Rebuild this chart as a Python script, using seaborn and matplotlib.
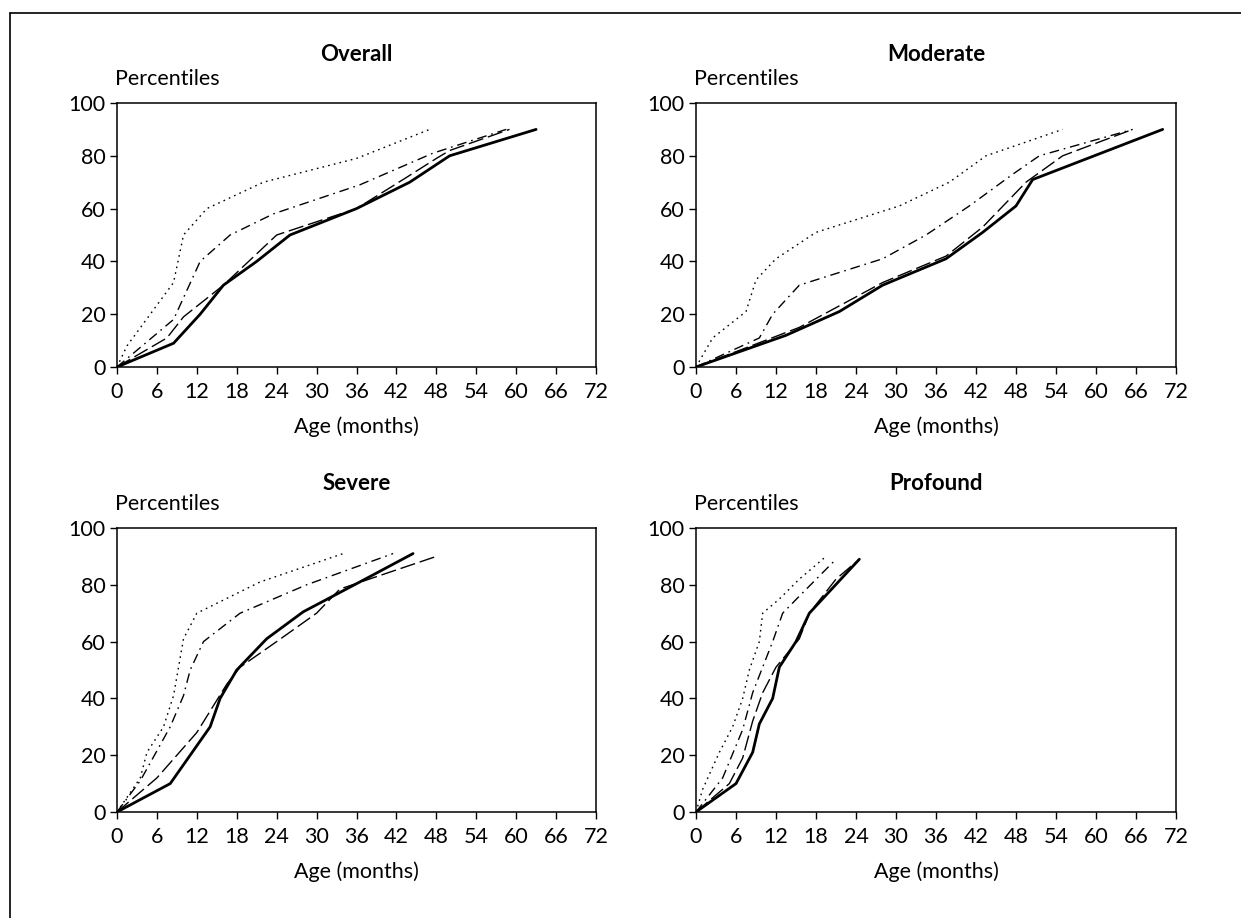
import matplotlib
matplotlib.use("Agg")
import matplotlib.pyplot as plt
import matplotlib.lines as mlines
import seaborn as sns

# age (months) and percentile values
# Overall
overall_solid_x = [0, 8.5, 12.5, 16, 21, 26, 36, 44, 50, 63]
overall_solid_y = [0, 9, 20, 31, 40, 50, 60, 70, 80, 90]
overall_dash_x = [0, 7.5, 10, 16, 24, 30, 36, 43, 48, 50, 59]
overall_dash_y = [0, 11, 19, 31, 50, 55, 60, 71, 79, 82, 90]
overall_dashdot_x = [0, 8.5, 12.5, 17, 23.5, 36.5, 47.5, 58.5]
overall_dashdot_y = [0, 18, 40, 50, 58, 69, 81, 90]
overall_dot_x = [0, 1.5, 8.5, 10, 13.5, 22, 36, 47]
overall_dot_y = [0, 8, 32, 50, 60, 70, 79, 90]

# Moderate
moderate_solid_x = [0, 13.5, 21.5, 28, 37.5, 43, 48, 50.5, 70]
moderate_solid_y = [0, 12, 21, 31, 41, 51, 61, 71, 90]
moderate_dash_x = [0, 15.5, 28, 37.5, 43, 49.5, 55, 65.5]
moderate_dash_y = [0, 15, 32, 42, 53, 70, 80, 90]
moderate_dashdot_x = [0, 9.5, 11.5, 15.5, 28, 34.5, 41, 47.5, 51.5, 65.5]
moderate_dashdot_y = [0, 11, 20, 31, 41, 50, 61, 73, 80, 90]
moderate_dot_x = [0, 2.5, 7.5, 9, 12, 18, 30.5, 38, 43.5, 55]
moderate_dot_y = [0, 11, 21, 33, 41, 51, 61, 70, 80, 90]

# Severe
severe_solid_x = [0, 8, 11, 14, 15.5, 18, 22.5, 28, 36.5, 44.5]
severe_solid_y = [0, 10, 20, 30, 40, 50, 61, 70.5, 81, 91]
severe_dash_x = [0, 6, 12, 16.5, 18.5, 24, 30, 33.5, 48]
severe_dash_y = [0, 12, 28, 45, 51, 60, 70, 78.5, 90]
severe_dashdot_x = [0, 3.5, 8, 10, 11, 13, 18.5, 28.5, 41.5]
severe_dashdot_y = [0, 11, 30, 41, 50, 60, 70, 80, 91]
severe_dot_x = [0, 3.5, 4.5, 7, 8.5, 10, 12, 21.5, 34]
severe_dot_y = [0, 12, 21, 30, 41, 61, 70, 81, 91]

# Profound
profound_solid_x = [0, 6, 8.5, 9.5, 11.5, 12.5, 15, 17, 24.5]
profound_solid_y = [0, 10, 21, 31, 40, 51, 60, 70, 89]
profound_dash_x = [0, 5, 7, 8.5, 10, 12, 15.5, 17, 21, 24]
profound_dash_y = [0, 10, 19, 32, 42, 51, 61, 70, 82, 88]
profound_dashdot_x = [0, 4, 7, 8.5, 10, 11.5, 13, 15.5, 21]
profound_dashdot_y = [0, 12, 29, 42, 51, 60, 70, 76, 89]
profound_dot_x = [0, 1, 3.5, 5.5, 7, 8, 9.5, 10, 12.5, 15.5, 19.5]
profound_dot_y = [0, 8, 21, 30, 40, 50, 60, 70, 75, 82, 90]

panel_titles = ["Overall", "Moderate", "Severe", "Profound"]
x_ticks = list(range(0, 73, 6))
y_ticks = list(range(0, 101, 20))

panels = [
    [(overall_dot_x, overall_dot_y), (overall_dashdot_x, overall_dashdot_y),
     (overall_dash_x, overall_dash_y), (overall_solid_x, overall_solid_y)],
    [(moderate_dot_x, moderate_dot_y), (moderate_dashdot_x, moderate_dashdot_y),
     (moderate_dash_x, moderate_dash_y), (moderate_solid_x, moderate_solid_y)],
    [(severe_dot_x, severe_dot_y), (severe_dashdot_x, severe_dashdot_y),
     (severe_dash_x, severe_dash_y), (severe_solid_x, severe_solid_y)],
    [(profound_dot_x, profound_dot_y), (profound_dashdot_x, profound_dashdot_y),
     (profound_dash_x, profound_dash_y), (profound_solid_x, profound_solid_y)],
]

# line styles: dotted, dash-dot, dashed, solid (thick)
styles = [
    dict(linestyle=(0, (1.2, 3.0)), linewidth=1.0),
    dict(linestyle=(0, (7, 3.5, 1.2, 3.5)), linewidth=1.0),
    dict(linestyle=(0, (11, 3.5)), linewidth=1.0),
    dict(linestyle="-", linewidth=2.0),
]

sns.set_theme(style="white")
plt.rcParams["font.family"] = ["Lato", "DejaVu Sans"]
plt.rcParams["font.size"] = 15.5

W, H = 1241, 918
fig = plt.figure(figsize=(W / 100, H / 100), dpi=100)

# axes boxes in pixels: (left, top, width, height)
boxes = [(117, 103, 479, 264), (696, 103, 480, 264),
         (117, 528, 479, 284), (696, 528, 480, 284)]
title_pads = [30, 30, 27.5, 27.5]

for i, (l, t, w, h) in enumerate(boxes):
    ax = fig.add_axes([l / W, 1 - (t + h) / H, w / W, h / H])
    for (xs, ys), st in zip(panels[i], styles):
        sns.lineplot(x=xs, y=ys, ax=ax, color="black", errorbar=None,
                     sort=False, **st)
    ax.set_xlim(0, 72)
    ax.set_ylim(0, 100)
    ax.set_xticks(x_ticks)
    ax.set_yticks(y_ticks)
    ax.tick_params(axis="both", direction="out", length=5, width=1,
                   color="black", labelsize=15.5, labelcolor="black",
                   bottom=True, left=True)
    ax.tick_params(axis="x", pad=6)
    ax.tick_params(axis="y", pad=3)
    for sp in ax.spines.values():
        sp.set_color("black")
        sp.set_linewidth(1.1)
    ax.set_xlabel("Age (months)", fontsize=15.5, labelpad=10, color="black")
    ax.set_ylabel("")
    ax.set_title(panel_titles[i], fontsize=16, fontweight="bold",
                 pad=title_pads[i], color="black")
    ax.annotate("Percentiles", xy=(0, 1), xycoords="axes fraction",
                xytext=(-1.5, 13), textcoords="offset points",
                ha="left", va="baseline", fontsize=15.5, color="black")
    ax.grid(False)

# outer frame (left and top edges visible)
fig.add_artist(mlines.Line2D([9.5 / W, 9.5 / W], [0, 1 - 12.5 / H],
                             transform=fig.transFigure, color="black", linewidth=1.2))
fig.add_artist(mlines.Line2D([9.5 / W, 1], [1 - 12.5 / H, 1 - 12.5 / H],
                             transform=fig.transFigure, color="black", linewidth=1.2))

fig.savefig("out.png", dpi=100, facecolor="white")
